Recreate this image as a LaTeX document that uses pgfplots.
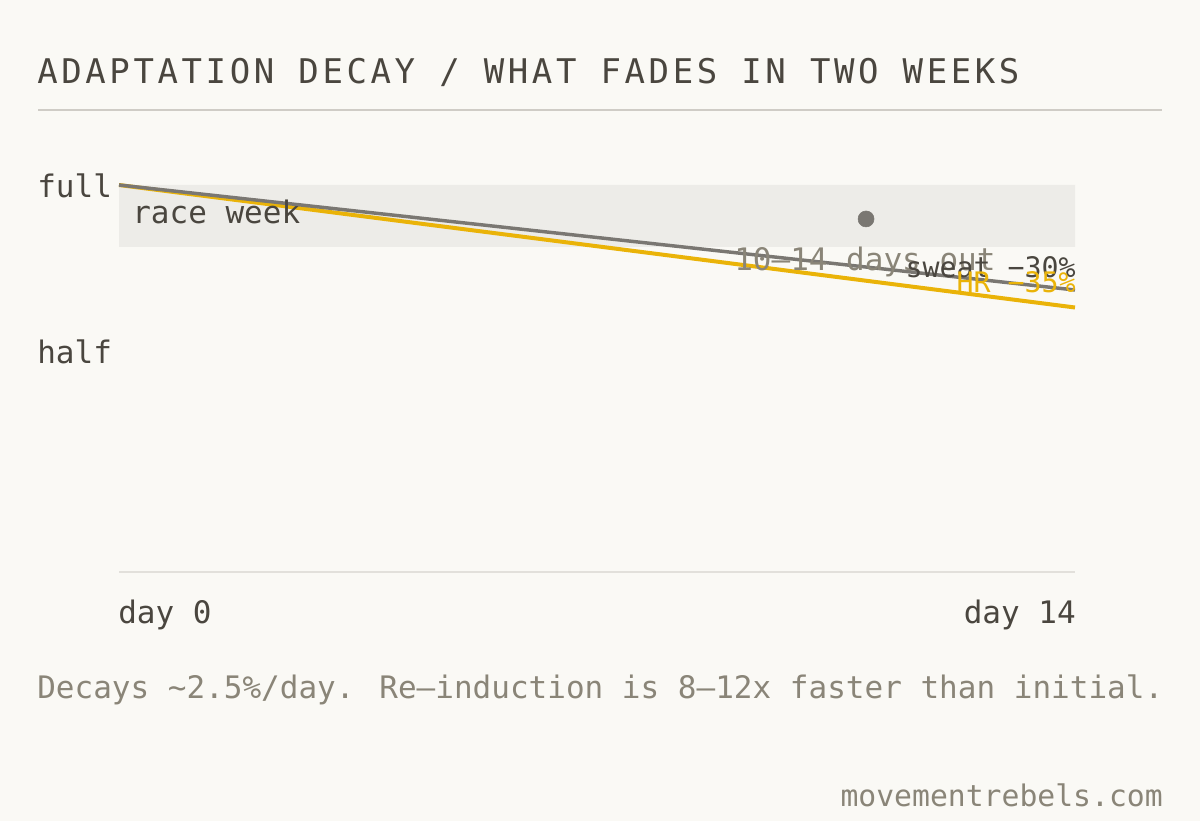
\documentclass[border=0pt]{standalone}
\usepackage{fontspec}
\setmainfont{DejaVu Sans Mono}
\newfontfamily\titlefont[LetterSpace=10.6]{DejaVu Sans Mono}
\usepackage{pgfplots}
\pgfplotsset{compat=1.18}

\definecolor{bg}{HTML}{FAF9F5}
\definecolor{ink}{HTML}{4A463F}
\definecolor{muted}{HTML}{8A8578}
\definecolor{rulec}{HTML}{CFCCC6}
\definecolor{band}{HTML}{EDECE8}
\definecolor{basec}{HTML}{E2E0DB}
\definecolor{hrc}{HTML}{EAB308}
\definecolor{sweatc}{HTML}{7A7772}

\newcommand\lbl{\fontsize{23.25}{28}\selectfont}

\begin{document}
\begin{tikzpicture}[x=0.75pt,y=-0.75pt]
\fill[bg] (0,0) rectangle (1200,821);

% title and rule
\node[anchor=base west, inner sep=0, text=ink, font=\titlefont\fontsize{25.5}{30}\selectfont] at (37,83) {ADAPTATION DECAY / WHAT FADES IN TWO WEEKS};
\draw[rulec, line width=2.2pt] (38,110) -- (1162,110);

% baseline
\draw[basec, line width=2pt] (119,572) -- (1075,572);

\coordinate (origin) at (119,572);
\begin{axis}[
    at={(origin)}, anchor=south west,
    width=717pt, height=290.25pt, scale only axis,
    xmin=0, xmax=14, ymin=-0.1057, ymax=1,
    hide axis, clip=false,
  ]
  % race week band
  \addplot[draw=none, fill=band] coordinates {(0,0.823) (14,0.823) (14,1) (0,1) (0,0.823)};
  % HR adaptation
  \addplot[hrc, line width=3pt] coordinates {(0,1) (14,0.65)};
  % sweat adaptation
  \addplot[sweatc, line width=2.6pt] coordinates {(0,1) (14,0.70)};
  % race marker
  \addplot[only marks, mark=*, mark size=6pt, color=sweatc] coordinates {(10.94,0.903)};
\end{axis}

% labels
\begin{scope}[every node/.style={inner sep=0, font=\lbl}]
\node[anchor=base west, text=ink] at (37,197) {full};
\node[anchor=base west, text=ink] at (37,363) {half};
\node[anchor=base west, text=ink] at (132,223) {race week};
\node[anchor=base west, text=muted] at (734,270) {10–14 days out};
\node[anchor=base east, text=ink, font=\fontsize{21.2}{26}\selectfont] at (1076,277) {sweat −30\%};
\node[anchor=base east, text=hrc, font=\fontsize{21.2}{26}\selectfont] at (1076,292) {HR −35\%};
\node[anchor=base west, text=ink] at (118,623) {day 0};
\node[anchor=base east, text=ink] at (1076,623) {day 14};
\node[anchor=base west, text=muted] at (37,698) {Decays \textasciitilde 2.5\%/day. Re–induction is 8–12x faster than initial.};
\node[anchor=base east, text=muted, font=\fontsize{22.3}{26}\selectfont] at (1163,806) {movementrebels.com};
\end{scope}
\end{tikzpicture}
\end{document}
